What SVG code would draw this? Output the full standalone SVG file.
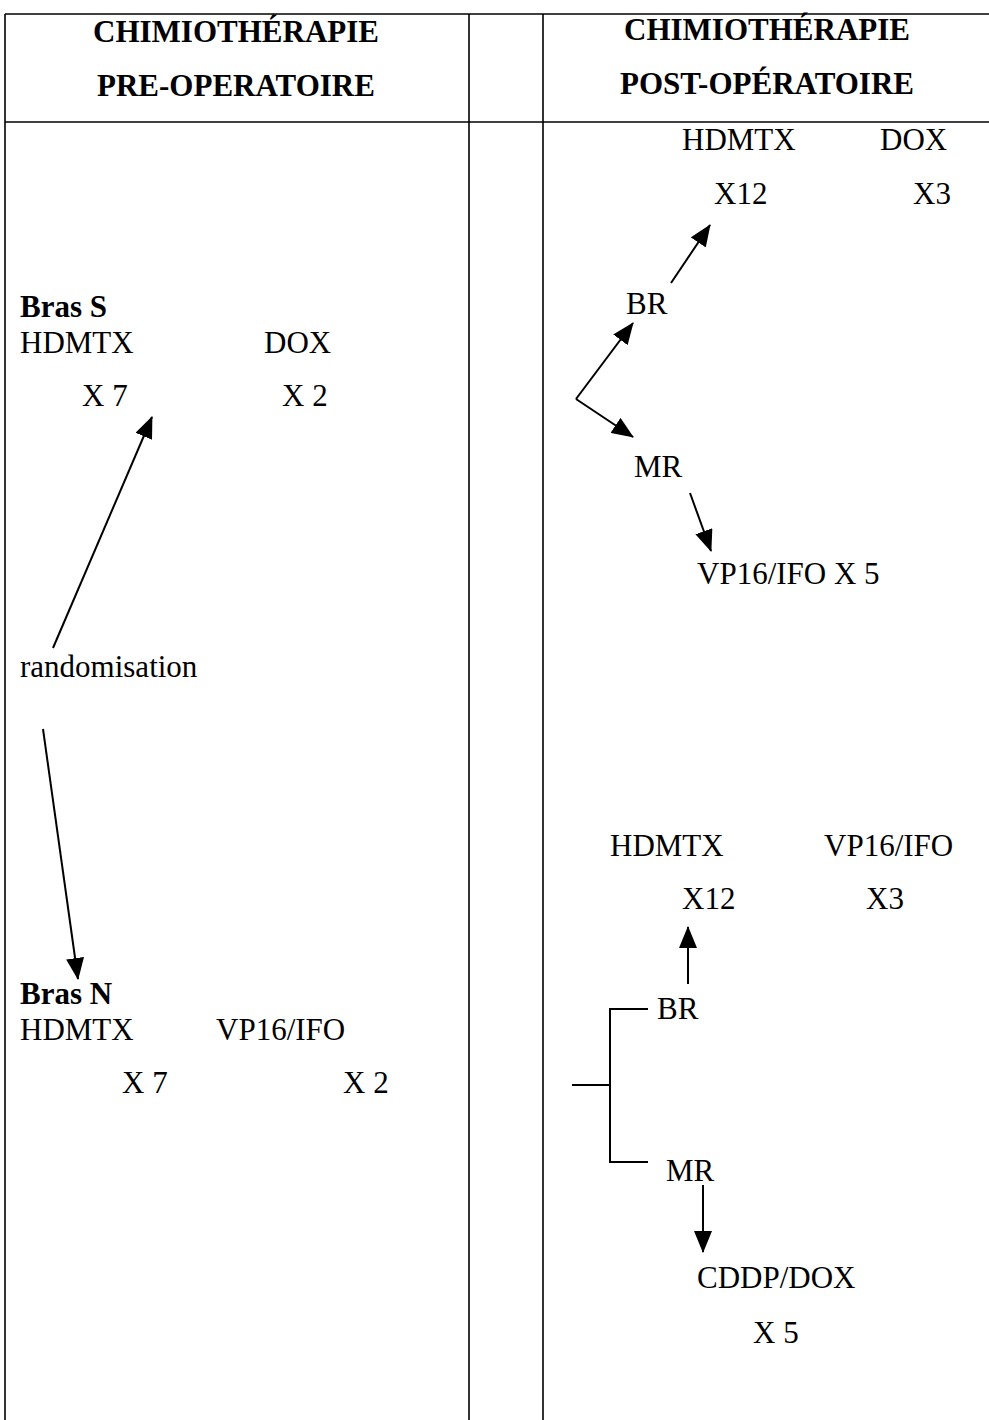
<svg xmlns="http://www.w3.org/2000/svg" width="989" height="1420" viewBox="0 0 989 1420">
  <style>
    .grid { stroke: #000; stroke-width: 1.6; fill: none; }
    .lbl { font-family: "Liberation Serif", "Times New Roman", serif; font-size: 31px; fill: #000; }
    .hdr { font-family: "Liberation Serif", "Times New Roman", serif; font-size: 31px; font-weight: bold; fill: #000; text-anchor: middle; }
    .bold { font-weight: bold; }
    .edge { stroke: #000; stroke-width: 2; fill: none; }
    .arr { marker-end: url(#head); }
  </style>
  <defs>
    <marker id="head" markerUnits="userSpaceOnUse" markerWidth="22" markerHeight="18" refX="21" refY="9" orient="auto">
      <path d="M0,0 L22,9 L0,18 z" fill="#000"/>
    </marker>
  </defs>
  <rect width="989" height="1420" fill="#fff"/>

  <!-- table frame -->
  <g id="table" class="grid">
    <line x1="5" y1="14" x2="989" y2="14"/>
    <line x1="5" y1="122" x2="989" y2="122"/>
    <line x1="5" y1="14" x2="5" y2="1420"/>
    <line x1="469" y1="14" x2="469" y2="1420"/>
    <line x1="543" y1="14" x2="543" y2="1420"/>
  </g>

  <!-- column headers -->
  <g id="header-pre">
    <text class="hdr" x="236" y="42">CHIMIOTHÉRAPIE</text>
    <text class="hdr" x="236" y="96">PRE-OPERATOIRE</text>
  </g>
  <g id="header-post">
    <text class="hdr" x="767" y="40">CHIMIOTHÉRAPIE</text>
    <text class="hdr" x="767" y="94">POST-OPÉRATOIRE</text>
  </g>

  <!-- pre-operative arms -->
  <g id="bras-s">
    <text class="lbl bold" x="20" y="317">Bras S</text>
    <text class="lbl" x="20" y="353">HDMTX</text>
    <text class="lbl" x="264" y="353">DOX</text>
    <text class="lbl" x="82" y="406">X 7</text>
    <text class="lbl" x="282" y="406">X 2</text>
  </g>
  <g id="randomisation">
    <text class="lbl" x="20" y="677">randomisation</text>
  </g>
  <g id="bras-n">
    <text class="lbl bold" x="20" y="1004">Bras N</text>
    <text class="lbl" x="20" y="1040">HDMTX</text>
    <text class="lbl" x="216" y="1040">VP16/IFO</text>
    <text class="lbl" x="122" y="1093">X 7</text>
    <text class="lbl" x="343" y="1093">X 2</text>
  </g>

  <!-- post-operative, arm S -->
  <g id="s-br-regimen">
    <text class="lbl" x="682" y="150">HDMTX</text>
    <text class="lbl" x="880" y="150">DOX</text>
    <text class="lbl" x="714" y="204">X12</text>
    <text class="lbl" x="913" y="204">X3</text>
  </g>
  <g id="s-br"><text class="lbl" x="626" y="314">BR</text></g>
  <g id="s-mr"><text class="lbl" x="634" y="477">MR</text></g>
  <g id="s-mr-regimen"><text class="lbl" x="697" y="584">VP16/IFO X 5</text></g>

  <!-- post-operative, arm N -->
  <g id="n-br-regimen">
    <text class="lbl" x="610" y="856">HDMTX</text>
    <text class="lbl" x="824" y="856">VP16/IFO</text>
    <text class="lbl" x="682" y="909">X12</text>
    <text class="lbl" x="866" y="909">X3</text>
  </g>
  <g id="n-br"><text class="lbl" x="657" y="1019">BR</text></g>
  <g id="n-mr"><text class="lbl" x="666" y="1181">MR</text></g>
  <g id="n-mr-regimen">
    <text class="lbl" x="697" y="1288">CDDP/DOX</text>
    <text class="lbl" x="753" y="1343">X 5</text>
  </g>

  <!-- connectors -->
  <g id="connectors">
    <line class="edge arr" x1="53" y1="648" x2="152" y2="417"/>
    <line class="edge arr" x1="43" y1="729" x2="78" y2="979"/>

    <line class="edge arr" x1="671" y1="283" x2="710" y2="225"/>
    <line class="edge arr" x1="576" y1="399" x2="633" y2="323"/>
    <line class="edge arr" x1="576" y1="399" x2="633" y2="437"/>
    <line class="edge arr" x1="690" y1="493" x2="711" y2="551"/>

    <polyline class="edge" points="648,1009 610,1009 610,1162 648,1162"/>
    <line class="edge" x1="572" y1="1085" x2="610" y2="1085"/>
    <line class="edge arr" x1="688" y1="984" x2="688" y2="927"/>
    <line class="edge arr" x1="703" y1="1185" x2="703" y2="1252"/>
  </g>
</svg>
